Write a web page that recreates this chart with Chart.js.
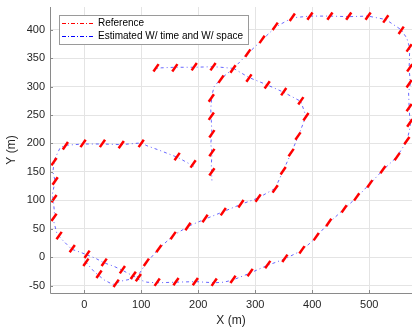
<!DOCTYPE html>
<html>
<head>
<meta charset="utf-8">
<script src="https://cdn.jsdelivr.net/npm/chart.js@4.4.1/dist/chart.umd.min.js"></script>
<style>
    html, body { margin: 0; padding: 0; background: #fff; }
</style>
</head>
<body>
<canvas id="grafico" width="412" height="332"></canvas>
<script>
// marcas de referencia (m)
var refX = [-53, -51, -53, -53, -44, -21, 5,
    -33, -2, 32, 65, 100, 163, 191,
    3, 35, 26, 67, 56, 86, 95,
    128, 161, 195, 228, 261,
    291, 322, 352, 382, 407, 429, 456, 478, 501, 524, 549, 566,
    571, 570, 570, 571, 570, 556,
    529, 498, 464, 431, 396, 365,
    335, 312, 287, 261,
    226, 193, 159, 126, 240,
    223, 223, 224, 224, 224,
    289, 321, 350, 380, 389, 375, 363, 349, 335, 305, 275, 244, 212, 182, 156, 131, 109];
var refY = [168, 134, 103, 70, 38, 15, 5,
    196, 200, 200, 198, 200, 177, 164,
    -9, -9, -30, -22, -46, -32, -36,
    -44, -43, -43, -44, -39,
    -27, -13, -2, 13, 36, 61, 85, 106, 129, 154, 177, 205,
    236, 263, 305, 333, 368, 399,
    419, 424, 424, 424, 424, 422,
    406, 383, 359, 331,
    335, 335, 333, 333, 313,
    280, 248, 217, 184, 150,
    315, 303, 291, 275, 247, 213, 184, 152, 120, 104, 94, 80, 68, 54, 38, 15, -9];

// trayectoria estimada, tramos separados por null
var estX = [192, 165, 132, 110, 100, 66, 33, -2, -30, -42, -52, -55, -51, -56, -54, -52, -54, -48, -40, -22, -5, 5, null,
    5, 20, 35, 52, 67, 80, 92, null,
    2, 18, 35, 50, 65, 85, null,
    92, 110, 128, 160, 195, 228, 245, 261, 291, 320, 352, 380, 400, 407, 429, 455, 478, 500, 524, 548, 566, 572, 570, 569, 572, 570, 571, 566, 556, 529, 498, 464, 431, 396, 365, 336, 312, 287, 262, null,
    262, 240, 226, 193, 159, 135, 122, null,
    262, 240, 228, 224, 222, 223, 224, 222, 224, 223, 224, null,
    262, 289, 321, 350, 380, 389, 376, 363, 349, 335, 305, 275, 244, 212, 184, 156, 131, 109, 92];
var estY = [160, 175, 188, 196, 201, 198, 199, 199, 197, 193, 172, 150, 134, 110, 100, 75, 65, 42, 32, 14, 8, 4, null,
    4, -2, -10, -16, -23, -30, -36, null,
    -8, -26, -40, -48, -42, -38, null,
    -38, -44, -45, -44, -43, -45, -44, -40, -28, -15, -3, 11, 28, 36, 60, 84, 105, 128, 153, 176, 204, 230, 263, 290, 305, 333, 368, 385, 400, 418, 424, 423, 424, 424, 421, 405, 382, 358, 332, null,
    332, 334, 335, 334, 334, 333, 331, null,
    332, 314, 300, 285, 260, 240, 217, 200, 184, 160, 135, null,
    332, 316, 303, 290, 274, 248, 214, 183, 152, 121, 104, 93, 80, 67, 55, 38, 15, -10, -36];

var X_TICKS = [0, 100, 200, 300, 400, 500];
var Y_TICKS = [-50, 0, 50, 100, 150, 200, 250, 300, 350, 400];

var FUENTE = "'Liberation Sans', Arial, sans-serif";
var ROJO = '#ff0000';
var AZUL = 'rgba(0, 0, 255, 0.6)';

function armarDatasets() {
    var datasets = [];
    var puntos = [];
    for (var i = 0; i < refX.length; i++) {
        puntos.push({x: refX[i], y: refY[i]});
    }
    datasets.push({
        type: 'scatter',
        label: 'Reference',
        data: puntos,
        showLine: false,
        pointStyle: 'line',
        rotation: -55,
        pointRadius: 4.5,
        pointBorderWidth: 2.5,
        borderColor: ROJO,
        backgroundColor: ROJO,
        order: 0
    });
    var tramo = [];
    for (var j = 0; j <= estX.length; j++) {
        if (j === estX.length || estX[j] === null) {
            if (tramo.length > 1) {
                datasets.push({
                    type: 'line',
                    label: 'Estimated W/ time and W/ space',
                    data: tramo,
                    borderColor: AZUL,
                    borderWidth: 1,
                    borderDash: [3, 3, 1, 3],
                    pointRadius: 0,
                    fill: false,
                    tension: 0,
                    order: 1
                });
            }
            tramo = [];
        } else {
            tramo.push({x: estX[j], y: estY[j]});
        }
    }
    return datasets;
}

function sinRelleno(s) {
    s.paddingTop = 0;
    s.paddingBottom = 0;
    s.paddingLeft = 0;
    s.paddingRight = 0;
}

// el area de trazado llega hasta el borde derecho, como en la figura
var ajuste = {
    id: 'ajuste',
    afterLayout: function (chart) {
        var sx = chart.scales.x;
        chart.chartArea.right = chart.width;
        chart.chartArea.width = chart.chartArea.right - chart.chartArea.left;
        sx.right = chart.width;
        sx.width = sx.right - sx.left;
        sx.configure();
    }
};

var ejes = {
    id: 'ejes',
    afterDatasetsDraw: function (chart) {
        var ctx = chart.ctx;
        var a = chart.chartArea;
        var sx = chart.scales.x;
        var sy = chart.scales.y;
        ctx.save();
        ctx.strokeStyle = '#8a8a8a';
        ctx.lineWidth = 1;
        ctx.beginPath();
        ctx.moveTo(a.left + 0.5, a.top);
        ctx.lineTo(a.left + 0.5, a.bottom + 0.5);
        ctx.lineTo(a.right, a.bottom + 0.5);
        for (var i in X_TICKS) {
            var px = Math.round(sx.getPixelForValue(X_TICKS[i])) + 0.5;
            ctx.moveTo(px, a.bottom);
            ctx.lineTo(px, a.bottom - 3);
        }
        for (var k in Y_TICKS) {
            var py = Math.round(sy.getPixelForValue(Y_TICKS[k])) + 0.5;
            ctx.moveTo(a.left, py);
            ctx.lineTo(a.left + 3, py);
        }
        ctx.stroke();
        ctx.restore();
    }
};

var leyenda = {
    id: 'leyenda',
    afterDraw: function (chart) {
        var ctx = chart.ctx;
        var items = [
            {texto: 'Reference', color: ROJO},
            {texto: 'Estimated W/ time and W/ space', color: '#0000ff'}
        ];
        ctx.save();
        ctx.fillStyle = '#ffffff';
        ctx.fillRect(59.5, 15.5, 189, 29);
        ctx.strokeStyle = '#9a9a9a';
        ctx.lineWidth = 1;
        ctx.strokeRect(59.5, 15.5, 189, 29);
        ctx.font = '10px ' + FUENTE;
        ctx.textBaseline = 'middle';
        for (var i = 0; i < items.length; i++) {
            var y = 23.5 + i * 13;
            ctx.strokeStyle = items[i].color;
            ctx.setLineDash([4, 2, 1, 2]);
            ctx.beginPath();
            ctx.moveTo(62, y);
            ctx.lineTo(94, y);
            ctx.stroke();
            ctx.setLineDash([]);
            ctx.fillStyle = '#000000';
            ctx.fillText(items[i].texto, 98, y);
        }
        ctx.restore();
    }
};

var GRAFICO = new Chart(document.getElementById('grafico'), {
    type: 'scatter',
    data: {datasets: armarDatasets()},
    plugins: [ajuste, ejes, leyenda],
    options: {
        responsive: false,
        devicePixelRatio: 1,
        animation: false,
        layout: {padding: {top: 6, right: 0, left: 0, bottom: 0}},
        plugins: {
            legend: {display: false},
            tooltip: {enabled: false}
        },
        scales: {
            x: {
                type: 'linear',
                min: -60,
                max: 575,
                afterBuildTicks: function (s) {
                    s.ticks = X_TICKS.map(function (v) { return {value: v}; });
                },
                afterFit: function (s) { s.height = 39; sinRelleno(s); },
                grid: {color: '#e4e4e4', drawTicks: false},
                border: {display: false},
                ticks: {color: '#262626', font: {family: FUENTE, size: 11}, padding: 5, maxRotation: 0},
                title: {display: true, text: 'X (m)', color: '#262626', font: {family: FUENTE, size: 12}, padding: {top: 0, bottom: 4}}
            },
            y: {
                type: 'linear',
                min: -63,
                max: 440,
                afterBuildTicks: function (s) {
                    s.ticks = Y_TICKS.map(function (v) { return {value: v}; });
                },
                afterFit: function (s) { s.width = 50; sinRelleno(s); },
                grid: {color: '#e4e4e4', drawTicks: false},
                border: {display: false},
                ticks: {color: '#262626', font: {family: FUENTE, size: 11}, padding: 5},
                title: {display: true, text: 'Y (m)', color: '#262626', font: {family: FUENTE, size: 12}, padding: {top: 4, bottom: 0}}
            }
        }
    }
});
</script>
</body>
</html>
